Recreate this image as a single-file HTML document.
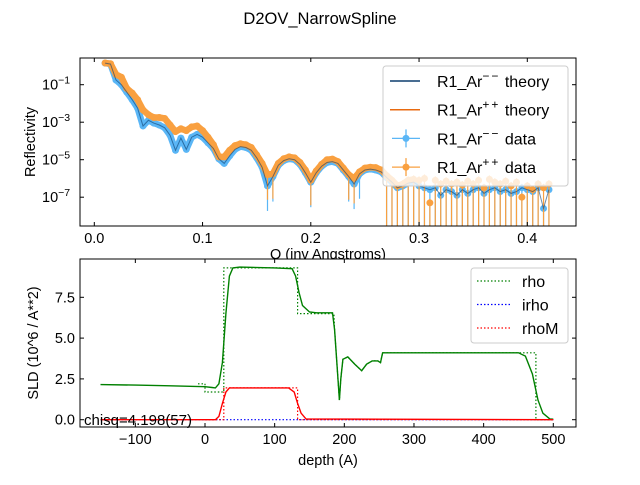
<!DOCTYPE html>
<html><head><meta charset="utf-8">
<style>
body{margin:0;background:#fff;}
svg text{font-family:"Liberation Sans",sans-serif;fill:#000;}
</style></head>
<body>
<svg id="c" width="640" height="480" viewBox="0 0 640 480" xmlns="http://www.w3.org/2000/svg">
<rect width="640" height="480" fill="#fff"/>
<text x="320" y="24" font-size="16.5" text-anchor="middle">D2OV_NarrowSpline</text>
<g id="topplot"></g>
<g id="botplot"></g>
</svg>
<script>
// ---- reflectivity data ----
const qVals=[0.010,0.015,0.020,0.025,0.030,0.035,0.040,0.045,0.050,0.055,0.060,0.065,0.070,0.075,0.080,0.085,0.090,0.095,0.100,0.105,0.110,0.115,0.120,0.125,0.130,0.135,0.140,0.145,0.150,0.155,0.160,0.165,0.170,0.175,0.180,0.185,0.190,0.195,0.200,0.205,0.210,0.215,0.220,0.225,0.230,0.235,0.240,0.245,0.250,0.255,0.260,0.265,0.270,0.275,0.280,0.285,0.290,0.295,0.300,0.305,0.310,0.315,0.320,0.325,0.330,0.335,0.340,0.345,0.350,0.355,0.360,0.365,0.370,0.375,0.380,0.385,0.390,0.395,0.400,0.405,0.410,0.415,0.420];
const logRPlus=[0.16,0.12,-0.45,-0.6,-1.2,-1.45,-1.8,-2.35,-2.6,-2.75,-2.75,-2.8,-3.15,-3.5,-3.35,-3.45,-3.25,-3.2,-3.45,-3.8,-4.2,-4.85,-4.85,-4.5,-4.25,-4.15,-4.2,-4.35,-4.75,-5.2,-5.8,-5.75,-5.2,-4.95,-4.85,-4.9,-5.15,-5.55,-6.1,-5.6,-5.25,-5.0,-4.97,-5.1,-5.45,-5.8,-6.0,-5.65,-5.45,-5.4,-5.42,-5.55,-5.85,-6.1,-6.4,-6.3,-6.1,-6.05,-6.1,-6.0,-7.3,-6.1,-6.3,-6.15,-6.3,-6.2,-6.35,-6.15,-6.3,-6.1,-6.5,-6.05,-6.2,-6.3,-6.15,-6.4,-6.2,-7.0,-6.4,-6.6,-6.3,-6.5,-6.3];
const logRMinus=[0.15,0.1,-0.75,-1.0,-1.4,-1.8,-2.25,-3.2,-2.9,-3.05,-3.15,-3.3,-3.7,-4.5,-3.85,-4.45,-3.8,-3.65,-3.8,-4.1,-4.4,-4.95,-5.2,-4.8,-4.45,-4.3,-4.35,-4.5,-4.9,-5.4,-6.4,-5.9,-5.3,-5.05,-4.95,-5.0,-5.25,-5.7,-6.2,-5.7,-5.35,-5.15,-5.1,-5.2,-5.55,-5.9,-6.3,-5.75,-5.55,-5.5,-5.55,-5.65,-5.95,-6.2,-6.5,-6.4,-6.25,-6.2,-6.4,-6.5,-6.6,-6.5,-6.9,-6.6,-6.7,-6.9,-6.6,-6.8,-6.6,-6.5,-6.8,-6.6,-6.5,-6.7,-6.6,-6.8,-6.7,-6.5,-6.6,-6.7,-6.5,-7.6,-6.6];
const topXTicks=[0.0,0.1,0.2,0.3,0.4];
const topYTicks=[-1,-3,-5,-7];
// ---- SLD profile data ----
const rhoDepth=[-150,-100,-50,0,10,15,20,25,30,35,40,50,100,125,130,135,140,150,160,183,186,190,193,195,198,205,215,225,232,240,248,252,255,300,450,460,470,478,485,495,500];
const rhoVals=[2.15,2.12,2.08,2.02,1.97,1.95,2.2,3.5,6.5,8.8,9.3,9.35,9.3,9.25,8.8,7.8,7.0,6.6,6.55,6.55,5.5,3.0,1.2,2.5,3.7,3.85,3.4,3.0,3.4,3.6,3.6,3.5,4.1,4.1,4.1,3.9,2.8,1.2,0.4,0.05,0.03];
const rhoStepDepth=[-10,0,0,27,27,133,133,185,186,190,193,195,198,205,215,225,232,240,248,252,255,475,475,500];
const rhoStepVals=[2.2,2.2,1.7,1.7,9.3,9.3,6.5,6.5,5.5,3.0,1.2,2.5,3.7,3.85,3.4,3.0,3.4,3.6,3.6,3.5,4.1,4.1,0,0];
const rhoMDepth=[-150,15,20,25,30,35,120,128,133,138,145,500];
const rhoMVals=[0,0,0.2,1.0,1.7,1.95,1.95,1.7,1.0,0.4,0.05,0];
const rhoMStepDepth=[0,27,27,133,133,500];
const rhoMStepVals=[0,0,1.95,1.95,0,0];
const irhoDepth=[-150,500];
const irhoVals=[0,0];
const botXTicks=[-100,0,100,200,300,400,500];
const botYTicks=[0.0,2.5,5.0,7.5];

const NS='http://www.w3.org/2000/svg';
function mk(tag,attrs,parent){const e=document.createElementNS(NS,tag);for(const k in attrs)e.setAttribute(k,attrs[k]);parent.appendChild(e);return e;}
const topG=document.getElementById('topplot'),botG=document.getElementById('botplot');

// top axes
const TL=80,TR=576,TT=58,TB=226;
const qx=q=>94.3+q*1082.5;
const ly=l=>84.7-(l+1)*18.75;
const cp=mk('clipPath',{id:'cpt'},topG);mk('rect',{x:TL,y:TT,width:TR-TL,height:TB-TT},cp);
const gT=mk('g',{'clip-path':'url(#cpt)'},topG);
function linePath(xs,ys,fx,fy){return xs.map((x,i)=>(i?'L':'M')+fx(x).toFixed(1)+' '+fy(ys[i]).toFixed(1)).join(' ');}
function drawData(vals,color,name){
  const g=mk('g',{},gT);
  
  
  vals.forEach((v,i)=>{
    const x=qx(qVals[i]),y=ly(v);
    if(qVals[i]>=0.27||v<-5.7){
      const eb=mk('line',{x1:x,x2:x,y1:y-4,y2:qVals[i]>=0.27?TB:y+25,stroke:color,'stroke-width':1.2},g);
      
      
    }
  });
  const band=mk('path',{d:linePath(qVals.filter(q=>q<0.3),vals,qx,ly),fill:'none',stroke:color,'stroke-width':6.5,'stroke-linejoin':'round','stroke-linecap':'round'},g);
  
  
  vals.forEach((v,i)=>{
    const c=mk('circle',{cx:qx(qVals[i]),cy:ly(v),r:3.5,fill:color},g);
    
    
  });
}
drawData(logRMinus,'#5ab6f6','data-minus');
drawData(logRPlus,'#f9a040','data-plus');
let p=mk('path',{d:linePath(qVals,logRMinus,qx,ly),fill:'none',stroke:'#0d3d6e','stroke-width':1,'stroke-opacity':0.6},gT);


mk('rect',{x:TL,y:TT,width:TR-TL,height:TB-TT,fill:'none',stroke:'#000','stroke-width':1},topG);
topXTicks.forEach(t=>{const x=qx(t);
  mk('line',{x1:x,x2:x,y1:TB,y2:TB-4,stroke:'#000'},topG);mk('line',{x1:x,x2:x,y1:TT,y2:TT+4,stroke:'#000'},topG);
  const tx=mk('text',{x:x,y:TB+17,'font-size':14.5,'text-anchor':'middle'},topG);tx.textContent=t.toFixed(1);
  
  });
topYTicks.forEach(t=>{const y=ly(t);
  mk('line',{x1:TL,x2:TL+4,y1:y,y2:y,stroke:'#000'},topG);mk('line',{x1:TR,x2:TR-4,y1:y,y2:y,stroke:'#000'},topG);
  const tx=mk('text',{x:42,y:y+5,'font-size':14.5},topG);tx.textContent='10';
  
  
  const s=mk('tspan',{dy:-6,'font-size':10.5},tx);s.textContent='\u2212'+(-t);});
let t=mk('text',{x:328,y:259,'font-size':14.5,'text-anchor':'middle'},topG);t.textContent='Q (inv Angstroms)';


t=mk('text',{x:0,y:0,'font-size':14.5,'text-anchor':'middle',transform:'translate(35,142) rotate(-90)'},topG);t.textContent='Reflectivity';


// top legend
const lg=mk('g',{},topG);


mk('rect',{x:383,y:66,width:185,height:120,rx:3,fill:'#fff','fill-opacity':0.8,stroke:'#ccc'},lg);
[['R1_Ar','\u2212\u2212',' theory','#0d3d6e',0],['R1_Ar','++',' theory','#e86a10',0],['R1_Ar','\u2212\u2212',' data','#5ab6f6',1],['R1_Ar','++',' data','#f9a040',1]].forEach((e,i)=>{
  const y=81+i*28.7;
  if(e[4]){mk('line',{x1:392,x2:420,y1:y,y2:y,stroke:e[3],'stroke-width':1.3},lg);mk('line',{x1:406,x2:406,y1:y-9,y2:y+9,stroke:e[3],'stroke-width':1.3},lg);mk('circle',{cx:406,cy:y,r:3.5,fill:e[3]},lg);}
  else mk('line',{x1:390,x2:420,y1:y,y2:y,stroke:e[3],'stroke-width':1.5},lg);
  const tx=mk('text',{x:437,y:y+6,'font-size':16},lg);
  
  
  tx.appendChild(document.createTextNode(e[0]));
  const s=mk('tspan',{dy:-7,'font-size':12,'letter-spacing':'2'},tx);s.textContent=e[1];
  const s2=mk('tspan',{dy:7},tx);s2.textContent=e[2];
});

// bottom axes
const BL=80,BR=576,BT=259,BB=427;
const dx=d=>205+d*0.6966;
const sy=v=>419.7-v*16.32;
mk('rect',{x:BL,y:BT,width:BR-BL,height:BB-BT,fill:'#fff',stroke:'#000'},botG);
function addLine(xs,ys,color,dash,name){const e=mk('path',{d:linePath(xs,ys,dx,sy),fill:'none',stroke:color,'stroke-width':dash?1.2:1.4,'stroke-dasharray':dash?'1.5 2':'none'},botG);
  
  }
addLine(irhoDepth,irhoVals,'#0000ff',true,'irho-line');
addLine(rhoStepDepth,rhoStepVals,'#008000',true,'rho-step-line');
addLine(rhoMStepDepth,rhoMStepVals,'#ff0000',true,'rhoM-step-line');
addLine(rhoDepth,rhoVals,'#008000',false,'rho-line');
addLine(rhoMDepth,rhoMVals,'#ff0000',false,'rhoM-line');
botXTicks.forEach(v=>{const x=dx(v);
  mk('line',{x1:x,x2:x,y1:BB,y2:BB-4,stroke:'#000'},botG);mk('line',{x1:x,x2:x,y1:BT,y2:BT+4,stroke:'#000'},botG);
  const tx=mk('text',{x:x,y:BB+17,'font-size':14.5,'text-anchor':'middle'},botG);tx.textContent=(v<0?'\u2212'+(-v):v);
  
  });
botYTicks.forEach(v=>{const y=sy(v);
  mk('line',{x1:BL,x2:BL+4,y1:y,y2:y,stroke:'#000'},botG);mk('line',{x1:BR,x2:BR-4,y1:y,y2:y,stroke:'#000'},botG);
  const tx=mk('text',{x:75,y:y+5,'font-size':14.5,'text-anchor':'end'},botG);tx.textContent=v.toFixed(1);
  
  });
t=mk('text',{x:328,y:465,'font-size':14.5,'text-anchor':'middle'},botG);t.textContent='depth (A)';


t=mk('text',{x:0,y:0,'font-size':14.5,'text-anchor':'middle',transform:'translate(38,343) rotate(-90)'},botG);t.textContent='SLD (10^6 / A**2)';


t=mk('text',{x:84,y:425,'font-size':15}, botG);t.textContent='chisq=4.198(57)';


const lb=mk('g',{},botG);


mk('rect',{x:471,y:268,width:97,height:75,rx:3,fill:'#fff','fill-opacity':0.8,stroke:'#ccc'},lb);
[['rho','#008000'],['irho','#0000ff'],['rhoM','#ff0000']].forEach((e,i)=>{const y=281+i*23.5;
  mk('line',{x1:477,x2:511,y1:y,y2:y,stroke:e[1],'stroke-width':1.2,'stroke-dasharray':'1.5 2'},lb);
  const tx=mk('text',{x:522,y:y+6,'font-size':16},lb);tx.textContent=e[0];
  
  });
</script>
</body></html>
